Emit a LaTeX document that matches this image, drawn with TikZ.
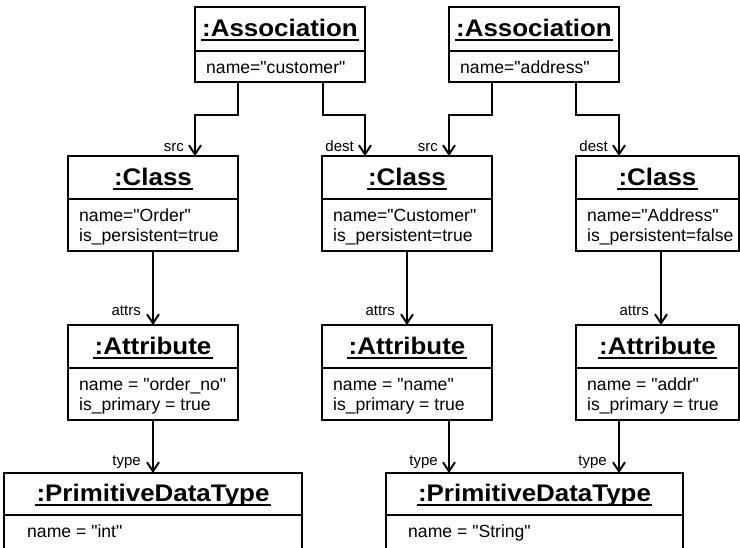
\documentclass[tikz,border=0pt]{standalone}
\usepackage{fontspec}
\setmainfont[Ligatures=TeXOff]{Liberation Sans}
\newfontfamily\ttlfam[FakeStretch=1.08,Ligatures=TeXOff]{Liberation Sans}
\usetikzlibrary{arrows.meta}
\newcommand\ttltext[1]{\setbox0=\hbox{\kern1.5pt#1\kern1.5pt}\rlap{\copy0}\rule[-4.6pt]{\wd0}{2pt}}
\tikzset{
  box/.style={draw, line width=2pt, inner sep=0pt, outer sep=0pt, anchor=north west},
  ttlbox/.style={box, font=\ttlfam\bfseries\fontsize{24}{28}\selectfont, text height=15.5pt, text depth=0pt},
  bodybox/.style={box},
  line/.style={anchor=base west, inner sep=0pt, font=\fontsize{17.6}{20}\selectfont},
  lbl/.style={anchor=base east, inner sep=0pt, font=\fontsize{15}{17}\selectfont},
  arr/.style={line width=2pt, -{Straight Barb[length=9pt,width=12pt,line width=2pt]}}
}
\begin{document}
\begin{tikzpicture}[x=1pt,y=-1pt]
\useasboundingbox (0,0) rectangle (740,547);
\clip (0,0) rectangle (740,547);
% Associations
\node[ttlbox, minimum width=170pt, minimum height=44pt] (a1t) at (195,7) {\ttltext{:Association}};
\node[bodybox, minimum width=170pt, minimum height=31pt] (a1b) at (195,51) {};
\node[line] (a1l1) at (206,73) {name="customer"};
\node[ttlbox, minimum width=170pt, minimum height=44pt] (a2t) at (449,7) {\ttltext{:Association}};
\node[bodybox, minimum width=170pt, minimum height=31pt] (a2b) at (449,51) {};
\node[line] (a2l1) at (460,73) {name="address"};
% Classes
\node[ttlbox, minimum width=170pt, minimum height=43pt] (c1t) at (68,156) {\ttltext{:Class}};
\node[bodybox, minimum width=170pt, minimum height=52pt] (c1b) at (68,199) {};
\node[line] (c1l1) at (79,221) {name="Order"};
\node[line] (c1l2) at (79,241) {is\_persistent=true};
\node[ttlbox, minimum width=170pt, minimum height=43pt] (c2t) at (322,156) {\ttltext{:Class}};
\node[bodybox, minimum width=170pt, minimum height=52pt] (c2b) at (322,199) {};
\node[line] (c2l1) at (333,221) {name="Customer"};
\node[line] (c2l2) at (333,241) {is\_persistent=true};
\node[ttlbox, minimum width=163pt, minimum height=43pt] (c3t) at (576,156) {\ttltext{:Class}};
\node[bodybox, minimum width=163pt, minimum height=52pt] (c3b) at (576,199) {};
\node[line] (c3l1) at (587,221) {name="Address"};
\node[line] (c3l2) at (587,241) {is\_persistent=false};
% Attributes
\node[ttlbox, minimum width=170pt, minimum height=43pt] (t1t) at (68,325) {\ttltext{:Attribute}};
\node[bodybox, minimum width=170pt, minimum height=52pt] (t1b) at (68,368) {};
\node[line] (t1l1) at (79,390) {name = "order\_no"};
\node[line] (t1l2) at (79,410) {is\_primary = true};
\node[ttlbox, minimum width=170pt, minimum height=43pt] (t2t) at (322,325) {\ttltext{:Attribute}};
\node[bodybox, minimum width=170pt, minimum height=52pt] (t2b) at (322,368) {};
\node[line] (t2l1) at (333,390) {name = "name"};
\node[line] (t2l2) at (333,410) {is\_primary = true};
\node[ttlbox, minimum width=163pt, minimum height=43pt] (t3t) at (576,325) {\ttltext{:Attribute}};
\node[bodybox, minimum width=163pt, minimum height=52pt] (t3b) at (576,368) {};
\node[line] (t3l1) at (587,390) {name = "addr"};
\node[line] (t3l2) at (587,410) {is\_primary = true};
% Primitive data types
\node[ttlbox, minimum width=298pt, minimum height=42pt] (p1t) at (4,473) {\ttltext{:PrimitiveDataType}};
\node[bodybox, minimum width=298pt, minimum height=60pt] (p1b) at (4,515) {};
\node[line] (p1l1) at (27,537) {name = "int"};
\node[ttlbox, minimum width=297pt, minimum height=42pt] (p2t) at (386,473) {\ttltext{:PrimitiveDataType}};
\node[bodybox, minimum width=297pt, minimum height=60pt] (p2b) at (386,515) {};
\node[line] (p2l1) at (408,537) {name = "String"};
% Connectors
\draw[arr] ([xshift=43pt]a1b.south west) -- ++(0,33) -| ([xshift=127pt]c1t.north west);
\draw[arr] ([xshift=128pt]a1b.south west) -- ++(0,33) -| ([xshift=43pt]c2t.north west);
\draw[arr] ([xshift=43pt]a2b.south west) -- ++(0,33) -| ([xshift=127pt]c2t.north west);
\draw[arr] ([xshift=127pt]a2b.south west) -- ++(0,33) -| ([xshift=43pt]c3t.north west);
\draw[arr] ([xshift=85pt]c1b.south west) -- ([xshift=85pt]t1t.north west);
\draw[arr] ([xshift=85pt]c2b.south west) -- ([xshift=85pt]t2t.north west);
\draw[arr] ([xshift=85pt]c3b.south west) -- ([xshift=85pt]t3t.north west);
\draw[arr] ([xshift=85pt]t1b.south west) -- ([xshift=149pt]p1t.north west);
\draw[arr] ([xshift=127pt]t2b.south west) -- ([xshift=63pt]p2t.north west);
\draw[arr] ([xshift=43pt]t3b.south west) -- ([xshift=233pt]p2t.north west);
% Labels
\node[lbl] (ls1) at (184,151) {src};
\node[lbl] (ld1) at (354,151) {dest};
\node[lbl] (ls2) at (438,151) {src};
\node[lbl] (ld2) at (608,151) {dest};
\node[lbl] (lr1) at (141,315) {attrs};
\node[lbl] (lr2) at (395,315) {attrs};
\node[lbl] (lr3) at (649,315) {attrs};
\node[lbl] (ly1) at (141,465) {type};
\node[lbl] (ly2) at (438,465) {type};
\node[lbl] (ly3) at (607,465) {type};
\end{tikzpicture}
\end{document}
